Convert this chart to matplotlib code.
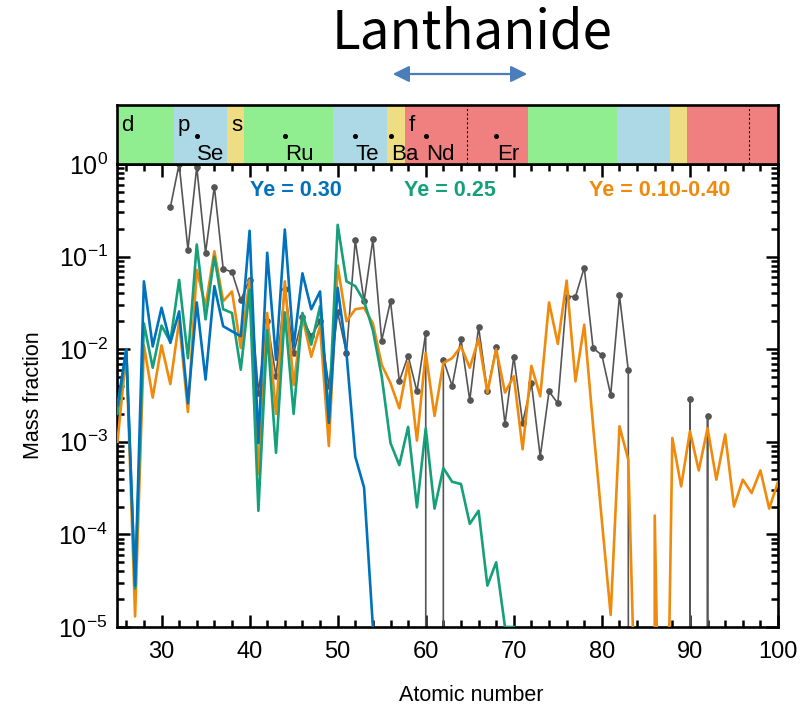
import numpy as np
import matplotlib
matplotlib.use("Agg")
import matplotlib.pyplot as plt
import matplotlib.patches as mpatches
from matplotlib.ticker import MultipleLocator, LogLocator, FuncFormatter, NullFormatter

plt.rcParams["font.family"] = ["Liberation Sans", "DejaVu Sans"]
plt.rcParams["mathtext.fontset"] = "custom"
plt.rcParams["mathtext.rm"] = "Liberation Sans"

# ---- abundance data (mass fraction vs atomic number) ----
z_ye030 = np.arange(25, 55)
ye030 = [2.5e-3, 1.0e-2, 2.8e-5, 5.4e-2, 1.07e-2, 2.8e-2, 1.17e-2, 2.56e-2, 2.6e-3, 3.2e-2,
         4.7e-3, 4.8e-2, 1.77e-2, 1.56e-2, 1.38e-2, 1.9e-1, 9.7e-4, 1.1e-1, 7.7e-3, 1.96e-1,
         1.07e-2, 6.6e-2, 2.7e-2, 4.2e-2, 1.6e-3, 4.6e-2, 9.1e-3, 6.9e-4, 3.2e-4, 1.0e-5]

z_ye025 = np.arange(25, 71)
ye025 = [2.0e-3, 1.0e-2, 2.6e-5, 1.9e-2, 6.3e-3, 1.8e-2, 1.2e-2, 5.6e-2, 8.0e-3, 1.35e-1,
         2.1e-2, 1.0e-1, 2.7e-2, 2.46e-2, 6.0e-3, 4.4e-2, 1.8e-4, 1.6e-2, 7.6e-4, 2.5e-2,
         2.0e-3, 2.46e-2, 1.12e-2, 2.9e-2, 1.8e-3, 2.2e-1, 5.4e-2, 4.8e-2, 3.3e-2, 1.6e-2,
         5.1e-3, 9.7e-4, 5.6e-4, 1.45e-3, 1.96e-4, 1.4e-3, 1.9e-4, 5.2e-4, 3.7e-4, 3.5e-4,
         1.3e-4, 1.8e-4, 2.8e-5, 5.0e-5, 1.0e-5, 1.0e-5]

z_mix = np.arange(25, 101)
ye_mix = [1.0e-3, 9.0e-3, 1.3e-5, 1.1e-2, 3.0e-3, 1.1e-2, 4.2e-3, 2.0e-2, 2.1e-3, 7.2e-2,
          2.9e-2, 1.14e-1, 3.3e-2, 4.2e-2, 1.03e-2, 5.6e-2, 4.5e-4, 2.46e-2, 2.0e-3, 5.4e-2,
          4.1e-3, 2.26e-2, 8.3e-3, 1.77e-2, 9.0e-4, 8.0e-2, 2.0e-2, 2.7e-2, 2.8e-2, 1.9e-2,
          6.8e-3, 4.3e-3, 2.3e-3, 7.2e-3, 1.03e-3, 9.1e-3, 1.9e-3, 7.1e-3, 8.0e-3, 1.07e-2,
          6.3e-3, 1.29e-2, 3.4e-3, 1.0e-2, 3.4e-3, 5.1e-3, 8.3e-4, 6.6e-3, 3.1e-3, 3.2e-2,
          1.14e-2, 5.5e-2, 4.5e-3, 1.84e-2, 1.5e-3, 1.4e-4, 1.35e-5, 1.47e-3, 6.4e-4, 2.0e-7,
          0.0, 1.6e-4, 1.0e-9, 1.1e-3, 3.3e-4, 1.3e-3, 4.9e-4, 1.4e-3, 3.9e-4, 1.2e-3,
          2.0e-4, 3.9e-4, 2.8e-4, 4.9e-4, 1.9e-4, 3.7e-4]

z_solar = np.arange(31, 94)
solar = [0.34, 1.0, 0.119, 0.93, 0.11, 0.57, 0.074, 0.068, 0.034, 0.056,
         3.4e-3, 2.0e-2, 5.1e-3, 4.5e-2, 9.0e-3, 2.2e-2, 1.38e-2, 2.0e-2, 4.0e-3, 2.5e-2,
         9.1e-3, 0.15, 3.3e-2, 0.153, 1.24e-2, 3.3e-2, 4.5e-3, 8.5e-3, 3.5e-3, 1.5e-2,
         0.0, 7.7e-3, 4.0e-3, 1.29e-2, 2.8e-3, 1.74e-2, 3.5e-3, 1.05e-2, 1.56e-3, 8.3e-3,
         1.6e-3, 4.3e-3, 6.9e-4, 3.5e-3, 2.6e-3, 3.7e-2, 3.7e-2, 7.6e-2, 1.03e-2, 8.6e-3,
         3.2e-3, 3.8e-2, 5.9e-3, 0.0, 0.0, 0.0, 0.0, 0.0, 0.0, 2.9e-3,
         0.0, 1.9e-3, 0.0]

# ---- periodic-table block strip ----
block_edges = [25, 31.4, 37.45, 39.4, 49.5, 55.6, 57.65, 71.65, 81.7, 87.7, 89.7, 100]
block_kind = ["d", "p", "s", "d", "p", "s", "f", "d", "p", "s", "f"]
block_colors = {"d": "#90EE90", "p": "#ADD8E6", "s": "#EEDD82", "f": "#F08080"}
block_dividers = [64.65, 96.7]
marked_elements = ["Se", "Ru", "Te", "Ba", "Nd", "Er"]
marked_z = [34, 44, 52, 56, 60, 68]

series_labels = ["Ye = 0.30", "Ye = 0.25", "Ye = 0.10-0.40"]
c_blue, c_green, c_orange, c_grey = "#0072BD", "#15A07A", "#F08A0C", "#555555"

fig = plt.figure(figsize=(8.08, 7.08), dpi=100)
ax = fig.add_axes([0.1454, 0.1144, 0.8175, 0.654])
top = fig.add_axes([0.1454, 0.7684, 0.8175, 0.0833], sharex=ax)

ax.set_yscale("log")
ax.plot(z_solar, solar, color=c_grey, lw=1.2, marker="o", ms=3.8, zorder=2)
ax.plot(z_mix, ye_mix, color=c_orange, lw=1.9, zorder=3)
ax.plot(z_ye025, ye025, color=c_green, lw=1.9, zorder=4)
ax.plot(z_ye030, ye030, color=c_blue, lw=1.9, zorder=5)

ax.set_xlim(25, 100)
ax.set_ylim(1e-5, 1)
ax.xaxis.set_major_locator(MultipleLocator(10))
ax.xaxis.set_minor_locator(MultipleLocator(2))
ax.yaxis.set_major_locator(LogLocator(base=10, numticks=10))
ax.yaxis.set_minor_locator(LogLocator(base=10, subs=np.arange(2, 10), numticks=20))
ax.yaxis.set_minor_formatter(NullFormatter())
ax.yaxis.set_major_formatter(FuncFormatter(
    lambda v, p: r"$\mathregular{10^{%d}}$" % int(round(np.log10(v)))))
ax.tick_params(which="both", direction="in", top=True, right=True, width=1.8)
ax.tick_params(axis="x", which="major", labelsize=17, pad=10)
ax.tick_params(axis="y", which="major", labelsize=18, pad=7)
ax.tick_params(which="major", length=9)
ax.tick_params(which="minor", length=5)
for s in ax.spines.values():
    s.set_linewidth(1.9)
ax.set_xlabel("Atomic number", fontsize=15.5)
ax.xaxis.set_label_coords(0.535, -0.125)
ax.set_ylabel("Mass fraction", fontsize=15.5, labelpad=10)

ax.text(45.2, 0.52, series_labels[0], color=c_blue, fontsize=15.5,
        fontweight="bold", ha="center", va="center")
ax.text(62.75, 0.52, series_labels[1], color=c_green, fontsize=15.5,
        fontweight="bold", ha="center", va="center")
ax.text(86.6, 0.52, series_labels[2], color=c_orange, fontsize=15.5,
        fontweight="bold", ha="center", va="center")

# block strip
top.set_ylim(0, 1)
seen = set()
for left, right, kind in zip(block_edges[:-1], block_edges[1:], block_kind):
    top.add_patch(mpatches.Rectangle((left, 0), right - left, 1,
                                     facecolor=block_colors[kind], edgecolor="none"))
    if kind not in seen:
        seen.add(kind)
        top.text(left + 0.45, 0.56, kind, fontsize=16, ha="left", va="baseline")
for xd in block_dividers:
    top.axvline(xd, color="black", lw=0.8, ls=(0, (2, 2)))
top.plot(marked_z, [0.48] * len(marked_z), "o", color="black", ms=2.6)
for name, z in zip(marked_elements, marked_z):
    top.text(z + 0.05, 0.06, name, fontsize=16, ha="left", va="baseline")
top.tick_params(which="both", left=False, bottom=False, labelleft=False,
                labelbottom=False, top=False, right=False)
for s in top.spines.values():
    s.set_linewidth(1.9)

# lanthanide span marker
fig.text(0.584, 0.953, "Lanthanide", fontsize=38, ha="center", va="center",
         family=["Noto Sans CJK JP", "DejaVu Sans"])
fig.add_artist(mpatches.FancyArrowPatch(
    (390 / 808, 1 - 74 / 708), (530 / 808, 1 - 74 / 708),
    transform=fig.transFigure, arrowstyle="<|-|>,head_length=0.7,head_width=0.35",
    mutation_scale=14, color="#4A7EBB", lw=1.6))

fig.savefig("out.png", dpi=100)
